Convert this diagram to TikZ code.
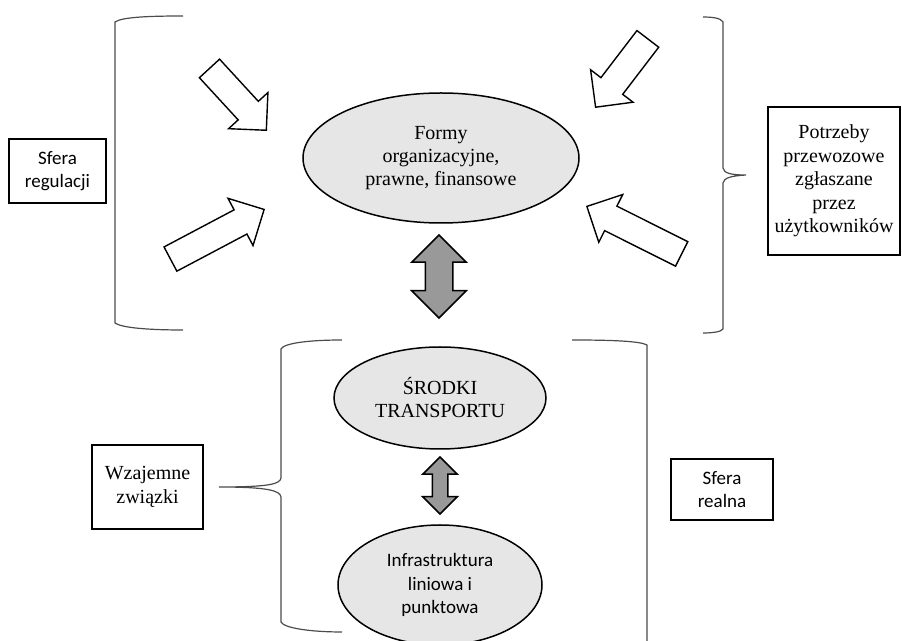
\documentclass[tikz,border=0pt]{standalone}
\usepackage{fontspec}
\setmainfont{Liberation Serif}
\newfontfamily\calibri{Carlito}
\usetikzlibrary{shapes.geometric,shapes.arrows}
\definecolor{spheregray}{HTML}{E6E6E6}
\definecolor{linkgray}{HTML}{999999}
\tikzset{
  sphere/.style={ellipse, draw, line width=0.75pt, fill=spheregray, inner sep=0pt, align=center,
    font=\fontsize{10}{11.5}\selectfont},
  labelbox/.style={draw, line width=0.9pt, inner sep=0pt, align=center,
    font=\fontsize{10}{11.75}\selectfont},
  sanstext/.style={font=\calibri\fontsize{9.5}{11.7}\selectfont},
  pushArrow/.style={single arrow, draw, fill=white, line width=0.7pt, inner sep=0pt,
    inner ysep=6.5pt, single arrow head extend=6.5pt, minimum width=0pt, minimum height=#1},
  linkArrow/.style={double arrow, draw, fill=linkgray, line width=0.75pt, inner sep=0pt,
    minimum width=0pt},
  bracketline/.style={draw=black!70, line width=0.6pt}
}
\begin{document}
\begin{tikzpicture}[x=0.5pt,y=-0.5pt]
  \useasboundingbox (0,0) rectangle (902,641);

  \node[sphere, minimum width=138pt, minimum height=65pt] (formy) at (441,158)
    {Formy\\organizacyjne,\\prawne, finansowe};
  \node[sphere, minimum width=106pt, minimum height=51pt] (srodki) at (440,398)
    {ŚRODKI\\TRANSPORTU};
  \node[sphere, sanstext, minimum width=102pt, minimum height=60pt] (infra) at (440,585)
    {Infrastruktura\\liniowa i\\punktowa};

  \node[labelbox, sanstext, minimum width=48.5pt, minimum height=32pt] (regulacja) at (57.5,171)
    {Sfera\\regulacji};
  \node[labelbox, minimum width=66pt, minimum height=74pt] (potrzeby) at (834,181)
    {Potrzeby\\przewozowe\\zgłaszane\\przez\\użytkowników};
  \node[labelbox, minimum width=55.5pt, minimum height=42pt] (zwiazki) at (147.5,487)
    {Wzajemne\\związki};
  \node[labelbox, sanstext, minimum width=51pt, minimum height=30.5pt] (realna) at (722,489.5)
    {Sfera\\realna};

  \node[pushArrow=42pt, rotate=-47.4, anchor=tip] (regulacja1) at (267,131) {};
  \node[pushArrow=53pt, rotate=27.9, anchor=tip] (regulacja2) at (265,209) {};
  \node[pushArrow=43pt, rotate=-127.4, anchor=tip] (potrzeby1) at (595,108) {};
  \node[pushArrow=53pt, rotate=153.4, anchor=tip] (potrzeby2) at (586,206) {};

  \node[linkArrow, rotate=90, minimum height=41.5pt, inner ysep=6.5pt,
    double arrow head extend=6.75pt] (formyLink) at (439,276.5) {};
  \node[linkArrow, rotate=90, minimum height=28.5pt, inner ysep=3.5pt,
    double arrow head extend=4.75pt] (srodkiLink) at (440,485.5) {};

  \draw[bracketline] (183,16) .. controls (150,16) and (122,17) .. (115,22) -- (115,323)
    .. controls (122,328) and (150,330) .. (183,330);
  \draw[bracketline] (703,17) .. controls (712,17) and (721,18) .. (723,22) -- (723,168)
    .. controls (724,173) and (730,175) .. (746,175)
    .. controls (730,176) and (724,178) .. (723,183) -- (723,329)
    .. controls (721,332) and (712,333) .. (703,333);
  \draw[bracketline] (342,340) .. controls (310,340) and (284,343) .. (281,349) -- (281,478)
    .. controls (280,484) and (270,487) .. (219,487)
    .. controls (270,487) and (280,491) .. (281,497) -- (281,622)
    .. controls (284,628) and (310,632) .. (342,632);
  \draw[bracketline] (572,340) .. controls (610,340) and (640,341) .. (647,345) -- (647,641);
\end{tikzpicture}
\end{document}
